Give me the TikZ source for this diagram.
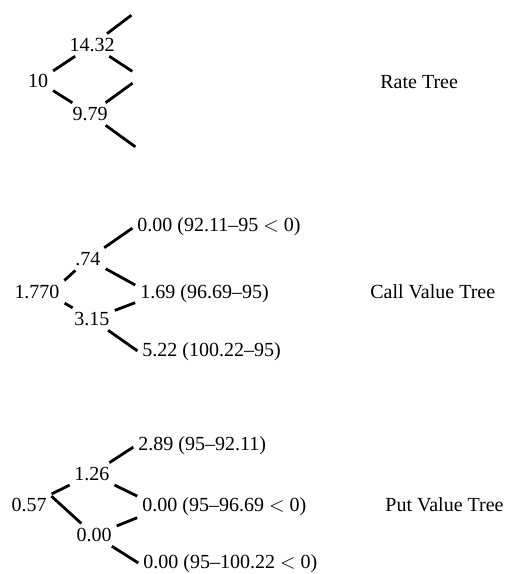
\documentclass[tikz,border=0pt]{standalone}
\usepackage{fontspec}
\setmainfont{Liberation Serif}
\usepackage{amsmath}

\begin{document}
\begin{tikzpicture}[x=0.5pt, y=-0.5pt,
    font=\fontsize{10}{12}\selectfont,
    val/.style={inner sep=1.5pt},
    leaf/.style={inner sep=1.5pt, anchor=west},
    branch/.style={line width=1.4pt, shorten <=1pt, shorten >=1pt},
    treename/.style={inner sep=1.5pt, anchor=west}]
    % Rate tree, then the call and put values on it
    \useasboundingbox (0,0) rectangle (516,574);

    % rate tree
    \node (r0) at (38,81) [val] {10};
    \node (r1) at (92,45) [val] {14.32};
    \node (r2) at (90,114) [val] {9.79};
    \coordinate (r3) at (133,14);
    \node (r4) at (141,77) [circle, inner sep=0pt, minimum size=8pt] {};
    \coordinate (r5) at (137,148);

    \draw [branch] (r0) -- (r1);
    \draw [branch] (r0) -- (r2);
    \draw [branch] (r1) -- (r3);
    \draw [branch] (r1) -- (r4);
    \draw [branch] (r2) -- (r4);
    \draw [branch] (r2) -- (r5);
    \node (rname) at (377,82) [treename] {Rate Tree};

    % call value tree
    \node (c0) at (37,292) [val] {1.770};
    \node (c1) at (88,259) [val] {.74};
    \node (c2) at (92,319) [val] {3.15};
    \node (c3) at (134,227) [leaf] {0.00 (92.11--95 $<$ 0)};
    \node (c4) at (137,294) [leaf] {1.69 (96.69--95)};
    \node (c5) at (139,352) [leaf] {5.22 (100.22--95)};

    \draw [branch] (c0.north east) -- (c1);
    \draw [branch] (c0.south east) -- (c2);
    \draw [branch] (c1) -- (c3.west);
    \draw [branch] (c1) -- ([yshift=4pt]c4.west);
    \draw [branch] (c2) -- ([yshift=-4pt]c4.west);
    \draw [branch] (c2) -- (c5.west);
    \node (cname) at (367,292) [treename] {Call Value Tree};

    % put value tree
    \node (p0) at (29,505) [val] {0.57};
    \node (p1) at (92,474) [val] {1.26};
    \node (p2) at (94,535) [val] {0.00};
    \node (p3) at (135,446) [leaf] {2.89 (95--92.11)};
    \node (p4) at (139,507) [leaf] {0.00 (95--96.69 $<$ 0)};
    \node (p5) at (140,564) [leaf] {0.00 (95--100.22 $<$ 0)};

    \draw [branch] (p0.north east) -- (p1);
    \draw [branch] (p0.north east) -- (p2);
    \draw [branch] (p1) -- (p3.west);
    \draw [branch] (p1) -- ([yshift=5pt]p4.west);
    \draw [branch] (p2) -- ([yshift=-5pt]p4.west);
    \draw [branch] (p2) -- (p5.west);
    \node (pname) at (382,505) [treename] {Put Value Tree};
\end{tikzpicture}
\end{document}
